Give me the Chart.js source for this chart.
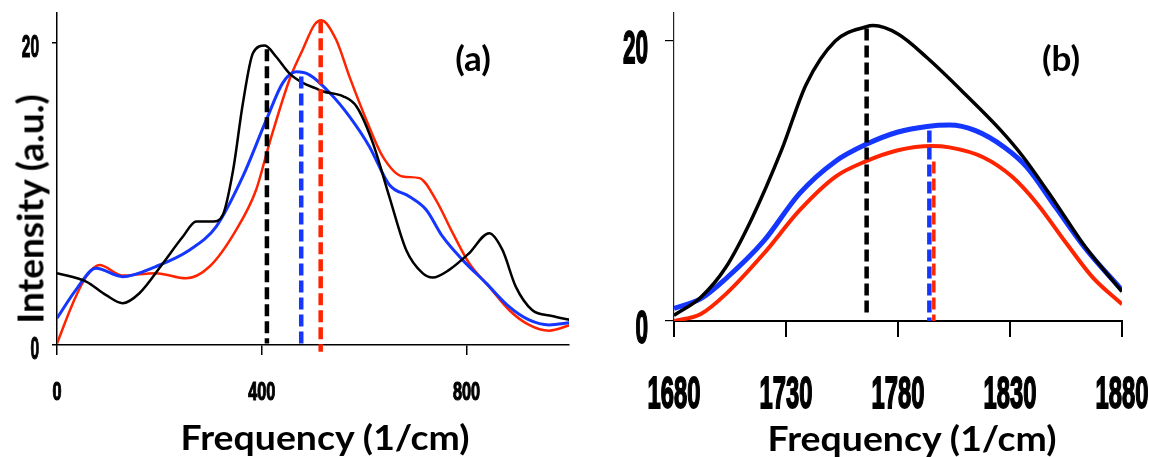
<!DOCTYPE html>
<html>
<head>
<meta charset="utf-8">
<script src="https://cdn.jsdelivr.net/npm/chart.js@4.4.0/dist/chart.umd.min.js"></script>
<style>
  body { margin: 0; background: #fff; }
  #wrap { position: relative; width: 1149px; height: 457px; overflow: hidden; }
  canvas { position: absolute; top: 0; }
  .lbl {
    position: absolute; font-family: Lato, "Open Sans", sans-serif; font-weight: bold;
    color: #000; white-space: nowrap; line-height: 1; transform: translate(-50%, -50%);
  }
  .xt { font-size: 34px; transform: translate(-50%, -50%) scaleX(1.1); }
</style>
</head>
<body>
<div id="wrap">
  <canvas id="chartA" width="580" height="457" style="left:0"></canvas>
  <canvas id="chartB" width="569" height="457" style="left:580px"></canvas>
  <div class="lbl" style="left:29px;top:209px;font-size:37px;transform:translate(-50%,-50%) rotate(-90deg)">Intensity (a.u.)</div>
  <div class="lbl xt" style="left:325px;top:437px">Frequency (1/cm)</div>
  <div class="lbl xt" style="left:912px;top:438px">Frequency (1/cm)</div>
  <div class="lbl" style="left:473px;top:57px;font-size:35px">(a)</div>
  <div class="lbl" style="left:1061px;top:57px;font-size:35px">(b)</div>
</div>
<script>
// ---- panel (a) ----
const aBlackX = [0, 57, 96, 128, 161, 207, 246, 272, 305, 324, 344, 363, 383, 406, 428, 454, 480, 506, 520, 559, 585, 617, 649, 682, 714, 734, 766, 805, 844, 870, 896, 928, 967, 1003];
const aBlackY = [4.76, 4.2, 3.3, 2.77, 3.43, 5.42, 7.19, 8.18, 8.18, 8.63, 11.6, 16.0, 19.36, 19.84, 19.1, 18.0, 17.37, 17.0, 16.8, 16.48, 15.8, 13.38, 9.84, 6.3, 4.76, 4.47, 4.98, 6.08, 7.41, 6.3, 3.87, 2.32, 1.92, 1.66];
const aBlueX = [0, 37, 76, 128, 193, 259, 311, 363, 409, 441, 467, 493, 533, 571, 610, 649, 688, 721, 753, 792, 838, 883, 922, 961, 1003];
const aBlueY = [1.77, 3.65, 5.09, 4.53, 5.2, 6.3, 7.85, 11.17, 14.93, 17.37, 18.1, 17.9, 16.7, 15.15, 13.16, 10.62, 9.84, 8.96, 7.19, 5.64, 4.1, 2.54, 1.66, 1.33, 1.48];
const aRedX = [0, 31, 57, 83, 128, 193, 252, 298, 350, 389, 415, 454, 480, 503, 516, 545, 571, 604, 636, 675, 708, 740, 773, 805, 844, 883, 922, 961, 1003];
const aRedY = [0.1, 2.77, 4.53, 5.3, 4.6, 4.76, 4.42, 5.2, 7.63, 10.29, 13.38, 17.58, 19.58, 21.23, 21.52, 20.24, 17.8, 14.93, 12.5, 11.17, 11.06, 9.62, 7.41, 5.42, 3.87, 2.32, 1.33, 0.95, 1.33];
// peak markers: [frequency, top, bottom]
const aPeakBlack = [410, 19.6, 0.1];
const aPeakBlue = [477, 17.8, 0];
const aPeakRed = [515, 21.45, -0.45];
const aXTicks = [0, 400, 800];
const aYTicks = [0, 20];

// ---- panel (b) ----
const bBlackX = [1680, 1692, 1703, 1715, 1728, 1739, 1752, 1765.5, 1769, 1780, 1793, 1810, 1826, 1836, 1850.5, 1863.6, 1880];
const bBlackY = [0.4, 1.7, 3.8, 7.4, 12.2, 16.9, 20.0, 21.0, 21.1, 20.5, 18.8, 16.2, 13.6, 11.7, 8.4, 5.3, 2.1];
const bBlueX = [1680, 1692, 1703, 1720, 1736, 1752, 1765.5, 1780, 1793, 1803, 1814.6, 1827.6, 1837.5, 1850.5, 1863.6, 1880];
const bBlueY = [0.9, 1.6, 3.0, 5.7, 9.1, 11.4, 12.6, 13.5, 13.9, 14.0, 13.6, 12.4, 11.0, 8.1, 5.2, 2.2];
const bRedX = [1680, 1692, 1703, 1720, 1736, 1752, 1765.5, 1780, 1795, 1803, 1818, 1831, 1842, 1855.4, 1867, 1880];
const bRedY = [0, 0.5, 1.9, 4.8, 7.9, 10.3, 11.4, 12.2, 12.5, 12.4, 11.7, 10.3, 8.4, 5.5, 3.1, 1.2];
const bPeakBlack = [1766, 20.9, 0.3];
const bPeakBlue = [1794, 13.6, 0];
const bPeakRed = [1796, 11.4, 0];
const bXTicks = [1680, 1730, 1780, 1830, 1880];
const bYTicks = [0, 20];

const BLACK = '#000000', BLUE = '#1436ff', RED = '#ff2400';

function pts(xs, ys) {
  return xs.map((x, i) => ({ x: x, y: ys[i] }));
}

function curve(xs, ys, color, width) {
  return {
    data: pts(xs, ys), borderColor: color, borderWidth: width,
    pointRadius: 0, fill: false, tension: 0.4, cubicInterpolationMode: 'monotone'
  };
}

function drop(peak, color, width) {
  return {
    data: [{ x: peak[0], y: peak[1] }, { x: peak[0], y: peak[2] }],
    borderColor: color, borderWidth: width, borderDash: [12, 5],
    pointRadius: 0, fill: false, clip: false
  };
}

// tick labels drawn narrow, positions from the chart scales
function tickText(cfg) {
  return {
    id: 'tickText',
    afterDraw(chart) {
      const ctx = chart.ctx;
      ['x', 'y'].forEach(id => {
        const o = cfg[id];
        const scale = chart.scales[id];
        ctx.save();
        ctx.font = 'bold ' + o.size + 'px "Liberation Sans", Arial, sans-serif';
        ctx.fillStyle = '#000';
        ctx.strokeStyle = '#000';
        ctx.lineWidth = o.weight;
        ctx.textBaseline = 'alphabetic';
        ctx.textAlign = id === 'x' ? 'center' : 'right';
        o.values.forEach(v => {
          const p = scale.getPixelForValue(v);
          const cx = id === 'x' ? p : o.pos;
          const cy = id === 'x' ? o.pos : p + o.shift;
          ctx.save();
          ctx.translate(cx, cy + o.size * 0.358);
          ctx.scale(o.sx, 1);
          ctx.fillText(String(v), 0, 0);
          ctx.strokeText(String(v), 0, 0);
          ctx.restore();
        });
        ctx.restore();
      });
    }
  };
}

function axis(min, max, ticks, size, tickLen, lineW, borderColor) {
  return {
    type: 'linear', min: min, max: max,
    afterBuildTicks: s => { s.ticks = ticks.map(v => ({ value: v })); },
    afterFit: s => { if (s.isHorizontal()) s.height = size; else s.width = size; },
    ticks: { display: false },
    grid: { drawOnChartArea: false, drawTicks: true, tickLength: tickLen, color: '#000', lineWidth: lineW },
    border: { display: true, color: borderColor, width: lineW }
  };
}

new Chart(document.getElementById('chartA'), {
  type: 'line',
  data: {
    datasets: [
      drop(aPeakBlack, BLACK, 4.5),
      drop(aPeakBlue, BLUE, 4.5),
      drop(aPeakRed, RED, 4.5),
      curve(aBlackX, aBlackY, BLACK, 2.5),
      curve(aBlueX, aBlueY, BLUE, 3),
      curve(aRedX, aRedY, RED, 2.5)
    ]
  },
  options: {
    responsive: false, animation: false,
    layout: { padding: { top: 13, right: 11, left: 0, bottom: 0 } },
    plugins: { legend: { display: false }, tooltip: { enabled: false } },
    scales: {
      x: axis(0, 1000, aXTicks, 112, 10, 1.5, '#000'),
      y: axis(0, 22, aYTicks, 57, 5, 1.5, '#000')
    }
  },
  plugins: [tickText({
    x: { values: aXTicks, size: 25, sx: 0.65, pos: 391, weight: 1.2 },
    y: { values: aYTicks, size: 31, sx: 0.5, pos: 39, shift: 3, weight: 1.2 }
  })]
});

new Chart(document.getElementById('chartB'), {
  type: 'line',
  data: {
    datasets: [
      drop(bPeakBlack, BLACK, 4.5),
      drop(bPeakRed, RED, 3.5),
      drop(bPeakBlue, BLUE, 4.5),
      curve(bBlackX, bBlackY, BLACK, 3.5),
      curve(bBlueX, bBlueY, BLUE, 5),
      curve(bRedX, bRedY, RED, 4)
    ]
  },
  options: {
    responsive: false, animation: false,
    layout: { padding: { top: 13, right: 27, left: 0, bottom: 0 } },
    plugins: { legend: { display: false }, tooltip: { enabled: false } },
    scales: {
      x: axis(1680, 1880, bXTicks, 136, 16, 2, '#000'),
      y: axis(0, 22, bYTicks, 94, 9, 1.2, '#222')
    }
  },
  plugins: [tickText({
    x: { values: bXTicks, size: 44, sx: 0.54, pos: 392, weight: 1.8 },
    y: { values: bYTicks, size: 47, sx: 0.48, pos: 68, shift: 5, weight: 1.8 }
  })]
});
</script>
</body>
</html>
